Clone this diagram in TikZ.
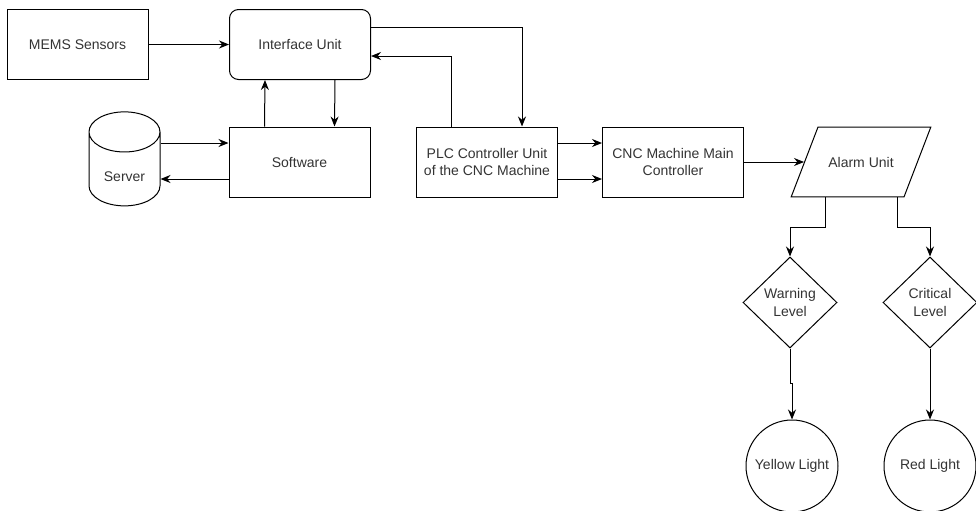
\documentclass[tikz,border=0pt]{standalone}
\usepackage{fontspec}
\setmainfont{Liberation Sans}
\usetikzlibrary{arrows.meta,shapes.geometric,calc}
\def\px{0.75pt}
\tikzstyle{box}=[draw,rectangle,minimum width=141*\px,minimum height=70*\px,inner sep=2pt,align=center,text=black!80]
\tikzstyle{roundbox}=[box,rounded corners=9*\px]
\tikzstyle{store}=[draw,cylinder,shape border rotate=90,aspect=0.8,minimum width=71*\px,minimum height=94*\px,text=black!80]
\tikzstyle{io}=[draw,trapezium,trapezium left angle=69,trapezium right angle=111,inner xsep=7.75pt,inner ysep=22.4pt,text height=7.6pt,text depth=0pt,text=black!80]
\tikzstyle{decision}=[draw,diamond,aspect=1,inner sep=0pt,minimum width=94*\px,minimum height=91*\px,align=center,text=black!80]
\tikzstyle{lamp}=[draw,circle,minimum size=92*\px,inner sep=0pt,text=black!80]
\tikzstyle{edge}=[draw,line width=0.75pt,-{Stealth[length=7.5pt,width=6pt]}]

\begin{document}
\begin{tikzpicture}[x=\px,y=-\px,line width=0.75pt,every node/.style={font=\fontsize{10.5}{13}\selectfont}]
    \useasboundingbox (0,0) rectangle (976,511);

    \foreach \pos/ \name/ \txt in {{(77.5,44.5)/mems/MEMS Sensors}, {(299.5,162)/soft/Software}, {(487,162)/plc/{PLC Controller Unit\\of the CNC Machine}}, {(673,162)/cnc/{CNC Machine Main\\Controller}}}
        \node[box] (\name) at \pos {\txt};

    \node[roundbox] (iface) at (300,44.5) {Interface Unit};
    \node[store] (server) at (124.5,174) {\smash{\raisebox{-5.5pt}{Server}}};
    \node[io] (alarm) at (861,162) {Alarm Unit};

    \foreach \pos/ \name/ \txt in {{(790,302.5)/warn/{Warning\\Level}}, {(930,302.5)/crit/{Critical\\Level}}}
        \node[decision] (\name) at \pos {\txt};

    \node[lamp] (yellow) at (792,466) {Yellow Light};
    \node[lamp] (red) at (930,466) {Red Light};

    % connectors
    \coordinate (s1) at ($(soft.west)+(0,-19)$);
    \coordinate (s2) at ($(soft.west)+(0,17)$);
    \path[edge] (mems) -- (iface);
    \path[edge] ($(soft.north west)+(36,0)$) -- ($(iface.south west)+(36,0)$);
    \path[edge] ($(iface.south west)+(106,0)$) -- ($(soft.north west)+(106,0)$);
    \path[edge] (server.east |- s1) -- (s1);
    \path[edge] (s2) -- (server.east |- s2);
    \path[edge] ($(plc.north west)+(35,0)$) |- ($(iface.east)+(0,11.5)$);
    \path[edge] ($(iface.east)+(0,-17.5)$) -| ($(plc.north west)+(106,0)$);
    \path[edge] ($(plc.east)+(0,-19)$) -- ($(cnc.west)+(0,-19)$);
    \path[edge] ($(plc.east)+(0,17)$) -- ($(cnc.west)+(0,17)$);
    \path[edge] (cnc) -- (alarm);

    % alarm levels
    \path[edge] ($(alarm.bottom left corner)+(35,0)$) -- ++(0,30) -| (warn.north);
    \path[edge] ($(alarm.bottom right corner)+(-7,0)$) -- ++(0,30) -| (crit.north);
    \path[edge] (warn.south) -- ++(0,35) -| (yellow.north);
    \path[edge] (crit) -- (red);

\end{tikzpicture}
\end{document}
